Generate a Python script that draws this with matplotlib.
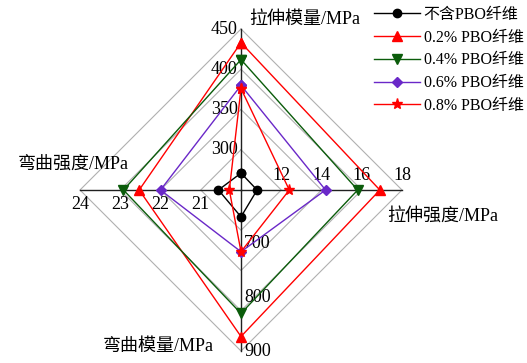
import numpy as np
import matplotlib
matplotlib.use('Agg')
import matplotlib.pyplot as plt

# axis order: top, right, bottom, left
axis_names = ['拉伸模量/MPa', '拉伸强度/MPa', '弯曲模量/MPa', '弯曲强度/MPa']
axis_lo = [250, 10, 600, 20]
axis_hi = [450, 18, 900, 24]
axis_ticks = [[300, 350, 400, 450], [12, 14, 16, 18], [700, 800, 900], [21, 22, 23, 24]]
angles = np.deg2rad([90, 0, 270, 180])

series_names = ['不含PBO纤维', '0.2% PBO纤维', '0.4% PBO纤维', '0.6% PBO纤维', '0.8% PBO纤维']
tensile_modulus = [271, 433, 412, 380, 376]
tensile_strength = [10.8, 16.9, 15.8, 14.2, 12.4]
flexural_modulus = [650, 873, 830, 715, 715]
flexural_strength = [20.56, 22.53, 22.92, 22.0, 20.29]

colors = ['black', '#ff0000', '#0b5c0b', '#6a28c8', '#ff0000']
markers = ['o', '^', 'v', 'D', '*']
msizes = [6, 7, 7, 5.5, 8]

FONT = ['Liberation Serif', 'Noto Sans CJK SC']
plt.rcParams['font.family'] = FONT


def to_xy(values):
    r = [(v - lo) / (hi - lo) for v, lo, hi in zip(values, axis_lo, axis_hi)]
    r = np.array(r + r[:1])
    a = np.append(angles, angles[0])
    return r * np.cos(a), r * np.sin(a)


fig = plt.figure(figsize=(5.27, 3.63), dpi=100)
W, H = 527, 363
cx, cy, R = 241, 190, 161
ax = fig.add_axes([(cx - R) / W, (H - cy - R) / H, 2 * R / W, 2 * R / H])
ax.set_xlim(-1, 1)
ax.set_ylim(-1, 1)
ax.axis('off')

# diamond grid
a = np.append(angles, angles[0])
for lev in [0.25, 0.5, 0.75, 1.0]:
    ax.plot(lev * np.cos(a), lev * np.sin(a), color='#b0b0b0', lw=0.8, zorder=1, clip_on=False)

# spokes
for ang in angles:
    ax.plot([0, np.cos(ang)], [0, np.sin(ang)], color='#202020', lw=1.0, zorder=2, clip_on=False)

# tick labels
fs = 13
for t in axis_ticks[0]:
    r = (t - axis_lo[0]) / (axis_hi[0] - axis_lo[0])
    ax.text(-0.02, r, str(t), ha='right', va='center', fontsize=fs)
for t in axis_ticks[1]:
    r = (t - axis_lo[1]) / (axis_hi[1] - axis_lo[1])
    ax.text(r, 0.04, str(t), ha='center', va='bottom', fontsize=fs)
for t in axis_ticks[2]:
    r = (t - axis_lo[2]) / (axis_hi[2] - axis_lo[2])
    ax.text(0.02, -r, str(t), ha='left', va='center', fontsize=fs)
for t in axis_ticks[3]:
    r = (t - axis_lo[3]) / (axis_hi[3] - axis_lo[3])
    ax.text(-r, -0.04, str(t), ha='center', va='top', fontsize=fs)

# axis titles
ax.text(0.05, 1.06, axis_names[0], ha='left', va='center', fontsize=fs)
ax.text(0.91, -0.16, axis_names[1], ha='left', va='center', fontsize=fs)
ax.text(-0.17, -0.97, axis_names[2], ha='right', va='center', fontsize=fs)
ax.text(-0.70, 0.16, axis_names[3], ha='right', va='center', fontsize=fs)

data = list(zip(tensile_modulus, tensile_strength, flexural_modulus, flexural_strength))
for i, vals in enumerate(data):
    x, y = to_xy(list(vals))
    ax.plot(x, y, color=colors[i], lw=1.0, marker=markers[i], ms=msizes[i],
            label=series_names[i], zorder=3 + i, clip_on=False)

fig.legend(loc='upper left', bbox_to_anchor=(374 / W, 1 - 7 / H), frameon=False,
           fontsize=11.5, handlelength=2.9, handletextpad=0.2, labelspacing=0.42,
           borderaxespad=0, borderpad=0)

fig.savefig('out.png', dpi=100)
